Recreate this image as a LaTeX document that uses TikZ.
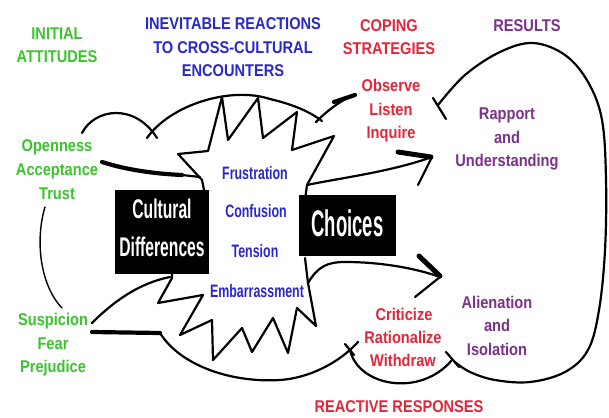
\documentclass[tikz,border=0pt]{standalone}
\usepackage{fontspec}
\newfontfamily\labfont{Liberation Sans}[FakeStretch=0.86]
\newfontfamily\bluefont{Liberation Sans}[FakeStretch=0.69]
\newfontfamily\culfont{Liberation Sans}[FakeStretch=0.58]
\newfontfamily\chofont{Liberation Sans}[FakeStretch=0.5]
\definecolor{cgreen}{RGB}{60,195,45}
\definecolor{cblue}{RGB}{40,40,205}
\definecolor{cred}{RGB}{228,38,58}
\definecolor{cpurple}{RGB}{125,48,140}
\begin{document}
\begin{tikzpicture}[x=1pt,y=-1pt,line cap=round,line join=round,
  ln/.style={draw=black,line width=2.2pt},
  thk/.style={draw=black,line width=4.2pt},
  thn/.style={draw=black,line width=1.4pt},
  blk/.style={fill=black,draw=none,inner sep=0pt},
  lb/.style={anchor=base,inner sep=0pt,font=\labfont\bfseries\fontsize{17}{17}\selectfont},
  bw/.style={anchor=base,inner sep=0pt,text=cblue,font=\bluefont\bfseries\fontsize{18}{18}\selectfont},
  wt/.style={anchor=base,inner sep=0pt,text=white,font=\culfont\bfseries\fontsize{27}{27}\selectfont},
  wc/.style={anchor=base,inner sep=0pt,text=white,font=\chofont\bfseries\fontsize{37}{37}\selectfont}]
\useasboundingbox[fill=white] (0,0) rectangle (609,417);

% explosion (star) outline
\draw[ln] (205,195) -- (202,180) -- (178,154) -- (208,151) -- (222,97) -- (228,140)
  -- (258,98) -- (263,138) -- (297,112) -- (292,150) -- (334,136) -- (307,185) -- (305,200);
\draw[ln] (305,258) -- (308,283) -- (316,326) -- (297,308) -- (288,353) -- (273,318)
  -- (252,352) -- (242,328) -- (213,360) -- (212,320) -- (180,335) -- (203,295)
  -- (158,303) -- (172,278) -- (172,268);

% humps from Openness to Observe
\draw[ln] (82,133) .. controls (95,108) and (135,103) .. (157,138);
\draw[ln] (147,138) .. controls (170,105) and (230,86) .. (270,99)
  .. controls (295,105) and (310,112) .. (322,121);
\draw[ln] (316,122) .. controls (328,110) and (340,101) .. (352,96);
\draw[thk] (334,102) -- (355,95);

% Openness to the explosion
\draw[thk] (102,162) .. controls (130,171) and (160,174) .. (182,175);
\draw[ln] (182,175) -- (200,177);

% upper arrow: Choices to Rapport
\draw[ln] (307,185) .. controls (340,178) and (390,172) .. (432,157);
\draw[line width=5pt] (398,152) -- (431,157);
\draw[ln] (418,185) -- (432,157);

% lower arrow: Choices to Alienation
\draw[ln] (308,283) .. controls (318,266) and (328,262) .. (345,262)
  .. controls (380,262) and (415,268) .. (440,277);
\draw[line width=5pt] (419,256) -- (440,276);
\draw[ln] (415,297) -- (440,277);

% Suspicion lines
\draw[ln] (92,323) .. controls (115,300) and (140,283) .. (170,277);
\draw[thk] (92,332) -- (160,333);
\draw[ln] (160,333) .. controls (180,365) and (230,383) .. (280,380)
  .. controls (310,378) and (340,362) .. (358,342);
\draw[ln] (345,344) -- (354,355);

% bowl under Withdraw
\draw[ln] (350,350) .. controls (358,386) and (420,398) .. (452,360);

% big right loop
\draw[ln] plot[smooth,tension=0.6] coordinates {(438,105) (465,75) (500,52) (533,43) (565,55)
  (588,82) (602,120) (606,180) (605,250) (599,310) (588,350) (565,372) (530,382)
  (495,380) (470,372) (455,362)};
\draw[ln] (433,98) -- (446,119);
\draw[ln] (446,352) -- (459,367);

% thin loop Trust to Suspicion
\draw[thn] (45,207) .. controls (35,240) and (40,285) .. (62,308);

% black boxes
\node[blk,minimum width=94pt,minimum height=84pt] (cul) at (162,232) {};
\node[blk,minimum width=97pt,minimum height=61pt] (cho) at (347.5,225.5) {};
\node[wt] (cul1) at (162,218) {Cultural};
\node[wt] (cul2) at (162,256) {Differences};
\node[wc] (cho1) at (347.5,236) {Choices};

% headings
\node[lb,text=cgreen] (h1a) at (57,40) {INITIAL};
\node[lb,text=cgreen] (h1b) at (57,63) {ATTITUDES};
\node[lb,text=cblue] (h2a) at (233,30) {INEVITABLE REACTIONS};
\node[lb,text=cblue] (h2b) at (233,54) {TO CROSS-CULTURAL};
\node[lb,text=cblue] (h2c) at (233,77) {ENCOUNTERS};
\node[lb,text=cred] (h3a) at (389,32) {COPING};
\node[lb,text=cred] (h3b) at (389,55) {STRATEGIES};
\node[lb,text=cpurple] (h4) at (527,32) {RESULTS};
\node[lb,text=cred] (h5) at (399,412) {REACTIVE RESPONSES};

% green labels
\node[lb,text=cgreen] (g1) at (57,151) {Openness};
\node[lb,text=cgreen] (g2) at (57,175) {Acceptance};
\node[lb,text=cgreen] (g3) at (57,199) {Trust};
\node[lb,text=cgreen] (g4) at (53,325) {Suspicion};
\node[lb,text=cgreen] (g5) at (53,349) {Fear};
\node[lb,text=cgreen] (g6) at (53,372) {Prejudice};

% blue reactions
\node[bw] (b1) at (255,179) {Frustration};
\node[bw] (b2) at (256,217) {Confusion};
\node[bw] (b3) at (255,257) {Tension};
\node[bw] (b4) at (257,297) {Embarrassment};

% red strategies
\node[lb,text=cred] (r1) at (391,92) {Observe};
\node[lb,text=cred] (r2) at (391,115) {Listen};
\node[lb,text=cred] (r3) at (391,138) {Inquire};
\node[lb,text=cred] (r4) at (404,320) {Criticize};
\node[lb,text=cred] (r5) at (403,343) {Rationalize};
\node[lb,text=cred] (r6) at (403,366) {Withdraw};

% purple results
\node[lb,text=cpurple] (p1) at (507,119) {Rapport};
\node[lb,text=cpurple] (p2) at (507,143) {and};
\node[lb,text=cpurple] (p3) at (507,166) {Understanding};
\node[lb,text=cpurple] (p4) at (497,308) {Alienation};
\node[lb,text=cpurple] (p5) at (497,331) {and};
\node[lb,text=cpurple] (p6) at (497,355) {Isolation};
\end{tikzpicture}
\end{document}
